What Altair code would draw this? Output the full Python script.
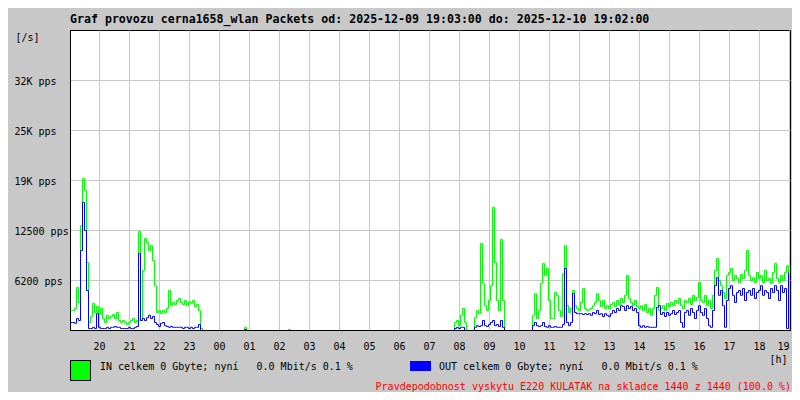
import altair as alt
import pandas as pd

MONO = "DejaVu Sans Mono"
BG = "#c8c8c8"
GRID = "#c8c8c8"

TITLE = "Graf provozu cerna1658_wlan Packets od: 2025-12-09 19:03:00 do: 2025-12-10 19:02:00"
IN_TEXT = "IN celkem 0 Gbyte; nyní\u00a0\u00a0 0.0 Mbit/s 0.1 %"
OUT_TEXT = "OUT celkem 0 Gbyte; nyní\u00a0\u00a0 0.0 Mbit/s 0.1 %"
RED_TEXT = "Pravdepodobnost vyskytu E220 KULATAK na skladce 1440 z 1440 (100.0 %)"

series_names = ["IN", "OUT"]
series_colors = ["#00ff00", "#0000ff"]

# hour ticks: minutes after 19:00 of the first day
hour_ticks = [60, 120, 180, 240, 300, 360, 420, 480, 540, 600, 660, 720,
              780, 840, 900, 960, 1020, 1080, 1140, 1200, 1260, 1320, 1380, 1440]
hour_labels = ["20", "21", "22", "23", "00", "01", "02", "03", "04", "05", "06", "07",
               "08", "09", "10", "11", "12", "13", "14", "15", "16", "17", "18", "19"]

y_ticks = [6250, 12500, 18750, 25000, 31250]
y_labels = ["6200 pps", "12500 pps", "19K pps", "25K pps", "32K pps"]

# packets per second, one value per 4-minute step starting 19:02
in_pps = (
    [2500, 2500, 2750, 5400, 3500, 13100, 19000, 17500, 8500, 1000,
     1750, 3400, 2250, 3000, 2000, 2750, 1500, 1000, 1900, 1500,
     1750, 2000, 1500, 2250, 1250, 1000, 1250, 1000, 750, 1000,
     1250, 1500, 1000, 1250, 12400, 1250, 7500, 11500, 11000, 10000,
     10600, 8750, 5600, 2250, 2500, 2100, 2500, 2250, 2750, 5000,
     3100, 3500, 3250, 3750, 4000, 3500, 3250, 3750, 3100, 3600,
     3400, 3750, 3000, 3250, 2500]
    + [250] + [0] * 21 + [400] + [0] * 21 + [150] + [0] * 82
    + [1000, 1250, 600, 1900, 2750, 1000, 0, 0, 0, 0,
       1600, 2500, 2100, 10900, 5900, 3100, 2500, 3750, 5600, 15400,
       8500, 3750, 2500, 11400, 3750]
    + [0] * 14
    + [1900, 4600, 1500, 2500, 5900, 8400, 6900, 7750, 3750, 1500,
       1500, 4750, 4400, 2500, 1750, 7100, 10600, 3100, 2250, 2750,
       5000, 3100, 2750, 2500, 3500, 5250, 2750, 2500, 2600, 2750,
       3100, 3500, 4600, 3750, 3000, 3750, 2750, 3100, 2750, 3250,
       3500, 3000, 3750, 3250, 4000, 3500, 4400, 6900, 4000, 3500,
       3100, 3750, 3000, 2750, 3100, 2500, 3250, 2250, 2750, 1900,
       2750, 4400, 5400, 2500, 2750, 3100, 2500, 3400, 3000, 3500,
       3100, 3750, 3400, 4000, 3100, 2750, 3750, 3500, 4000, 3250,
       4400, 3750, 4100, 6000, 3750, 3500, 4400, 3100, 3750, 2750,
       4400, 7500, 9000, 6250, 5600, 4750, 4000, 6900, 7250, 7750,
       6250, 6900, 6500, 6000, 7000, 6500, 7500, 10000, 6900, 6250,
       6600, 6000, 7250, 6500, 6900, 6000, 7500, 6250, 6500, 5900,
       7250, 8400, 6500, 6000, 6900, 6250, 7250, 8100, 6250]
)

out_pps = (
    [1000, 1000, 900, 1500, 1250, 10000, 16000, 12500, 5000, 250,
     250, 400, 250, 2100, 400, 250, 250, 250, 400, 250,
     400, 400, 500, 400, 400, 250, 250, 250, 250, 400,
     250, 250, 400, 500, 9600, 1250, 1500, 1250, 1600, 1900,
     1500, 1750, 1000, 750, 500, 900, 1000, 600, 500, 400,
     500, 400, 400, 400, 400, 400, 250, 400, 400, 250,
     400, 250, 400, 400, 750]
    + [0] * 22 + [125] + [0] * 104
    + [250, 400, 250, 400, 400, 0, 0, 0, 0, 0,
       400, 600, 500, 600, 1250, 600, 500, 750, 1000, 1250,
       600, 750, 500, 1250, 400]
    + [0] * 14
    + [600, 1000, 600, 500, 600, 1000, 500, 400, 600, 400,
       400, 500, 400, 400, 400, 750, 7750, 1000, 600, 1000,
       4600, 2250, 2100, 2100, 2100, 2000, 2100, 2000, 2100, 1900,
       2250, 2100, 2500, 2000, 2100, 1750, 2100, 1900, 1750, 2100,
       2500, 2250, 2750, 2500, 3100, 3000, 2500, 3100, 2750, 3000,
       2500, 2750, 2250, 600, 400, 600, 400, 500, 400, 400,
       400, 400, 2900, 3100, 2000, 2250, 1750, 2250, 1900, 2100,
       2500, 2000, 2250, 2500, 1000, 400, 2250, 2500, 1900, 2750,
       2250, 1500, 2500, 3100, 2250, 1900, 2750, 1500, 600, 400,
       2500, 5600, 6600, 4400, 5000, 3100, 400, 3750, 5250, 5600,
       4400, 3500, 4750, 5000, 4400, 5250, 3750, 4750, 5000, 4400,
       5250, 4000, 4750, 5000, 5600, 4400, 5000, 4750, 4000, 5250,
       4750, 5600, 5000, 3750, 5600, 4750, 5250, 250, 7250]
)

minutes = [2 + 4 * i for i in range(len(in_pps))]
df = pd.DataFrame({"min": minutes, "IN": in_pps, "OUT": out_pps})

x_label_expr = "[" + ",".join("'%s'" % s for s in hour_labels) + "][indexof([" + \
    ",".join(str(v) for v in hour_ticks) + "], datum.value)]"
y_label_expr = "[" + ",".join("'%s'" % s for s in y_labels) + "][indexof([" + \
    ",".join(str(v) for v in y_ticks) + "], datum.value)]"

x_enc = alt.X(
    "min:Q",
    scale=alt.Scale(domain=[2, 1442], nice=False, zero=False),
    axis=alt.Axis(
        values=hour_ticks, labelExpr=x_label_expr, grid=True, gridColor=GRID,
        gridWidth=1, ticks=False, tickSize=0, labelPadding=16,
        labelBaseline="middle", labelFlush=True,
        labelOverlap=False, labelBound=False, labelSeparation=0,
        labelFont=MONO, labelFontSize=10, labelColor="black",
        domainColor="black", domainWidth=1,
        title="[h]", titleX=708, titleY=29, titleAlign="center",
        titleBaseline="middle", titleFont=MONO, titleFontSize=10,
        titleFontWeight="normal", titleColor="black",
    ),
)

y_axis = alt.Axis(
    values=y_ticks, labelExpr=y_label_expr, grid=True, gridColor=GRID, gridWidth=1,
    ticks=False, tickSize=0, labelPadding=56, labelAlign="left",
    labelBaseline="middle", labelOffset=1, labelOverlap=False, labelFlush=False,
    labelFont=MONO, labelFontSize=10, labelColor="black",
    domainColor="black", domainWidth=1,
    title="[/s]", titleAngle=0, titleX=-55, titleY=7, titleAlign="left",
    titleBaseline="middle", titleFont=MONO, titleFontSize=10,
    titleFontWeight="normal", titleColor="black",
)

y_scale = alt.Scale(domain=[0, 37500], nice=False, zero=True)

lines = alt.Chart(df).transform_fold(
    series_names, as_=["series", "pps"]
).mark_line(
    strokeWidth=1, interpolate="step-after", clip=True, xOffset=0.5, yOffset=0.5
).encode(
    x=x_enc,
    y=alt.Y("pps:Q", scale=y_scale, axis=y_axis),
    color=alt.Color("series:N", scale=alt.Scale(domain=series_names, range=series_colors),
                    legend=None),
    order=alt.Order("min:Q"),
)

# black base line drawn over the zero values
base_rule = alt.Chart(pd.DataFrame({"v": [0]})).mark_rule(
    color="black", strokeWidth=1, yOffset=0.5
).encode(y=alt.Y("v:Q"))

one = pd.DataFrame({"k": [0]})
in_swatch = alt.Chart(one).mark_rect(fill="#00ff00", stroke="black", strokeWidth=1).encode(
    x=alt.value(0.5), x2=alt.value(20.5), y=alt.value(330.5), y2=alt.value(350.5)
)
out_swatch = alt.Chart(one).mark_rect(fill="#0000ff").encode(
    x=alt.value(340), x2=alt.value(361), y=alt.value(331), y2=alt.value(341)
)
title_text = alt.Chart(pd.DataFrame({"t": [TITLE]})).mark_text(
    align="left", baseline="alphabetic", font=MONO, fontSize=11.6, fontWeight="bold",
    color="black"
).encode(x=alt.value(0), y=alt.value(-7), text="t:N")
in_text = alt.Chart(pd.DataFrame({"t": [IN_TEXT]})).mark_text(
    align="left", baseline="middle", font=MONO, fontSize=10, color="black"
).encode(x=alt.value(30), y=alt.value(337), text="t:N")
out_text = alt.Chart(pd.DataFrame({"t": [OUT_TEXT]})).mark_text(
    align="left", baseline="middle", font=MONO, fontSize=10, color="black"
).encode(x=alt.value(369), y=alt.value(337), text="t:N")
red_text = alt.Chart(pd.DataFrame({"t": [RED_TEXT]})).mark_text(
    align="right", baseline="middle", font=MONO, fontSize=10, color="#ff0000"
).encode(x=alt.value(721), y=alt.value(357), text="t:N")

chart = alt.layer(
    lines, base_rule, in_swatch, out_swatch, title_text, in_text, out_text, red_text
).properties(
    width=720,
    height=300,
    padding={"left": 62, "top": 22, "right": 2, "bottom": 62},
    autosize=alt.AutoSizeParams(type="none"),
    background=BG,
).configure_view(
    stroke="black", strokeWidth=1, fill="white"
).configure_axis(
    labelOverlap=False
)

chart.save("out.html", embed_options={"renderer": "svg", "actions": False})
